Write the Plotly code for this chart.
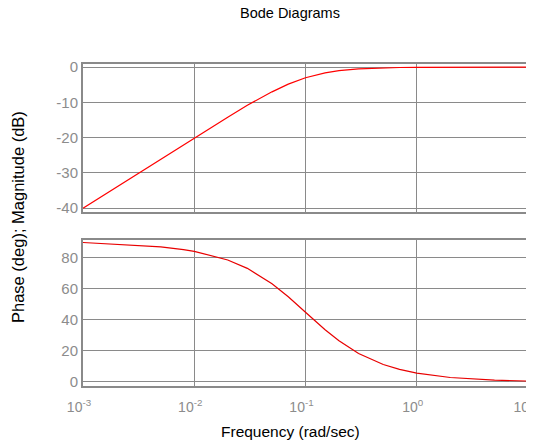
import plotly.graph_objects as go

freq = [0.001, 0.002, 0.005, 0.008, 0.01, 0.02, 0.03, 0.05, 0.07, 0.1,
        0.15, 0.2, 0.3, 0.5, 0.7, 1.0, 2.0, 5.0, 10.0]
magnitude_db = [-40.0, -34.0, -26.0, -22.0, -20.0, -14.2, -10.8, -7.0, -4.8, -3.0,
                -1.6, -1.0, -0.5, -0.2, -0.1, -0.05, -0.01, 0.0, 0.0]
phase_deg = [90.0, 88.9, 87.1, 85.4, 84.3, 78.7, 73.3, 63.4, 55.0, 45.0,
             33.7, 26.6, 18.4, 11.3, 8.1, 5.7, 2.9, 1.2, 0.6]

x_tickvals = [0.001, 0.01, 0.1, 1, 10]
x_ticktext = ["10<sup>-3</sup>", "10<sup>-2</sup>", "10<sup>-1</sup>", "10<sup>0</sup>", "10<sup>1</sup>"]
mag_tickvals = [0, -10, -20, -30, -40]
mag_ticktext = ["0", "-10", "-20", "-30", "-40"]
phase_tickvals = [0, 20, 40, 60, 80]
phase_ticktext = ["0", "20", "40", "60", "80"]

GRID = "#8a8a8a"
TICKC = "#8c8c8c"
FONT = "Liberation Sans, Arial, sans-serif"

# the page body adds an 8px offset; page coordinates below are compensated
OFF = 8
W, H = 534, 447 - OFF
L, R, T, B = 83 - OFF, 534 - (528 - OFF), 64 - OFF, 61
PW, PH = W - L - R, H - T - B


def px_x(x):
    return (x - OFF - L) / PW


def px_y(y):
    return (H - B - (y - OFF)) / PH


fig = go.Figure()
fig.add_trace(go.Scatter(x=freq, y=magnitude_db, mode="lines",
                         line=dict(color="#ff0000", width=1.2), xaxis="x", yaxis="y",
                         showlegend=False, hoverinfo="skip"))
fig.add_trace(go.Scatter(x=freq, y=phase_deg, mode="lines",
                         line=dict(color="#e80000", width=1.2), xaxis="x2", yaxis="y2",
                         showlegend=False, hoverinfo="skip"))

common_x = dict(type="log", range=[-3, 1], tickvals=x_tickvals, showgrid=True,
                gridcolor=GRID, gridwidth=1, showline=True, linecolor=GRID,
                linewidth=2, mirror=True, zeroline=False, ticks="",
                automargin=False, ticklabeloverflow="allow",
                tickfont=dict(family=FONT, size=14, color=TICKC))
common_y = dict(showgrid=True, gridcolor=GRID, gridwidth=1, showline=True,
                linecolor=GRID, linewidth=2, mirror=True, zeroline=False,
                ticks="", automargin=False, ticklabelstandoff=0,
                tickfont=dict(family=FONT, size=15, color=TICKC))

fig.update_layout(
    width=W, height=H,
    margin=dict(l=L, r=R, t=T, b=B),
    paper_bgcolor="white", plot_bgcolor="white",
    font=dict(family=FONT, color="black"),
    xaxis=dict(common_x, domain=[0, 1], anchor="y", showticklabels=False),
    yaxis=dict(common_y, domain=[px_y(212), 1], anchor="x", range=[-41.1, 0.9],
               tickvals=mag_tickvals, ticktext=mag_ticktext),
    xaxis2=dict(common_x, domain=[0, 1], anchor="y2", ticktext=x_ticktext,
                ticklabelstandoff=7, ticklabelshift=-4),
    yaxis2=dict(common_y, domain=[0, px_y(240)], anchor="x2", range=[-2.6, 91.6],
                tickvals=phase_tickvals, ticktext=phase_ticktext),
    annotations=[
        dict(text="Bode Diagrams", xref="paper", yref="paper", x=px_x(290), y=px_y(13),
             xanchor="center", yanchor="middle", showarrow=False,
             font=dict(family=FONT, size=14.5, color="black")),
        dict(text="Frequency (rad/sec)", xref="paper", yref="paper", x=px_x(290), y=px_y(431),
             xanchor="center", yanchor="middle", showarrow=False,
             font=dict(family=FONT, size=15.5, color="black")),
        dict(text="Phase (deg); Magnitude (dB)", xref="paper", yref="paper",
             x=px_x(18), y=px_y(217), xanchor="center", yanchor="middle", textangle=-90,
             showarrow=False, font=dict(family=FONT, size=16.5, color="black")),
    ],
)

fig.write_html("out.html")
